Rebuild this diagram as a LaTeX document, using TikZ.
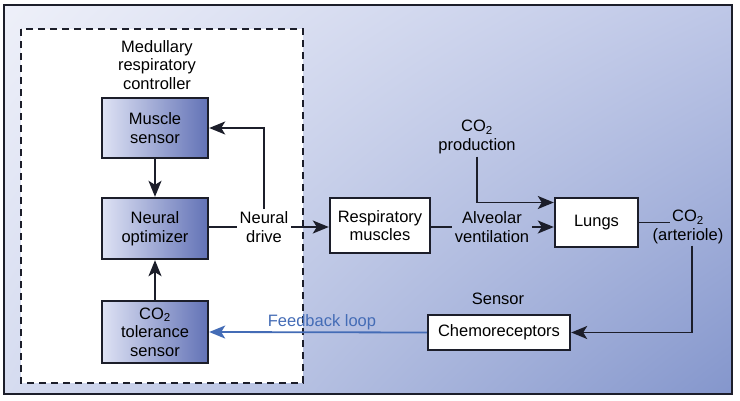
\documentclass[tikz,border=0pt]{standalone}
\usepackage{fontspec}
\setmainfont{Liberation Sans}
\usetikzlibrary{arrows.meta,calc,shadings}

\definecolor{frameDark}{RGB}{28,30,42}
\definecolor{boxLight}{RGB}{222,226,244}
\definecolor{boxBlue}{RGB}{98,114,182}
\definecolor{loopBlue}{RGB}{68,108,182}
\definecolor{bgUL}{RGB}{238,240,249}
\definecolor{bgUR}{RGB}{190,199,231}
\definecolor{bgLL}{RGB}{214,220,240}
\definecolor{bgLR}{RGB}{132,150,204}

\tikzset{every picture/.style={line width=1.8pt}}
\tikzset{
	shadedbox/.style={draw=frameDark, line width=2.4pt, left color=boxLight, right color=boxBlue, align=center, inner sep=0pt},
	plainbox/.style={draw=frameDark, line width=2.4pt, fill=white, align=center, inner sep=0pt},
	label text/.style={align=center, inner sep=2pt},
	flow/.style={draw=frameDark, -{Stealth[length=16pt,width=13pt,inset=4pt]}}
}

\begin{document}
\begin{tikzpicture}[x=1pt,y=1pt,yscale=-1,font=\fontsize{16.5}{18.5}\selectfont]
	\useasboundingbox (0,0) rectangle (740,400);
	
	%Outer frame
	\shade [upper left=bgUL, upper right=bgUR, lower left=bgLL, lower right=bgLR] (4,5) rectangle (732,394);
	\draw [frameDark, line width=2pt] (4,5) rectangle (732,394);
	%Dashed controller region
	\draw [frameDark, fill=white, line width=2.4pt, dash pattern=on 7pt off 5pt] (21,29) rectangle (303,383);
	
	% Text Node
	\node (mrc) [label text] at (157,65) {Medullary\\respiratory\\controller};
	
	%Boxes
	\node (ms) [shadedbox, minimum width=106, minimum height=60] at (155,128) {Muscle\\sensor};
	\node (no) [shadedbox, minimum width=106, minimum height=61] at (155,228.5) {Neural\\optimizer};
	\node (ts) [shadedbox, minimum width=106, minimum height=62] at (155,332) {CO\textsubscript{2}\\tolerance\\sensor};
	\node (rm) [plainbox, minimum width=100, minimum height=55] at (380,225.5) {Respiratory\\muscles};
	\node (lu) [plainbox, minimum width=83, minimum height=49] at (596.5,222.5) {Lungs};
	\node (ch) [plainbox, minimum width=142, minimum height=35] at (499,332.5) {Chemoreceptors};
	
	% Text Node
	\node (nd) [label text] at (264,227) {Neural\\drive};
	\node (av) [label text] at (492,227) {Alveolar\\ventilation};
	\node (cp) [label text] at (477,137) {CO\textsubscript{2}\\production};
	\node (co) [label text, inner sep=1pt] at (688,217) {CO\textsubscript{2}};
	\node (ar) [label text, inner sep=1pt] at (688,236) {(arteriole)};
	\node (se) [label text] at (498,299) {Sensor};
	\node (fb) [label text, text=loopBlue] at (322,322) {Feedback loop};
	
	%Straight Lines
	\draw [flow] (ms) -- (no);
	\draw [flow] (ts) -- (no);
	\draw [frameDark] (no.east |- nd) -- (nd.west);
	\draw [flow] (nd.east) -- (nd.east -| rm.west);
	\draw [flow] (nd.north) |- (ms.east);
	\draw [frameDark] (rm.east |- av) -- (av.west);
	\draw [flow] (av.east) -- (av.east -| lu.west);
	\draw [flow] (cp.south) |- ($(lu.west)+(0,-20)$);
	\draw [frameDark] (lu.east) -- (lu.east -| co.west);
	\draw [flow] ($(ar.south)+(4,0)$) |- (ch.east);
	\draw [loopBlue, -{Stealth[length=16pt,width=13pt,inset=4pt]}] (ch.west) -- (ts.east);
	
\end{tikzpicture}
\end{document}
